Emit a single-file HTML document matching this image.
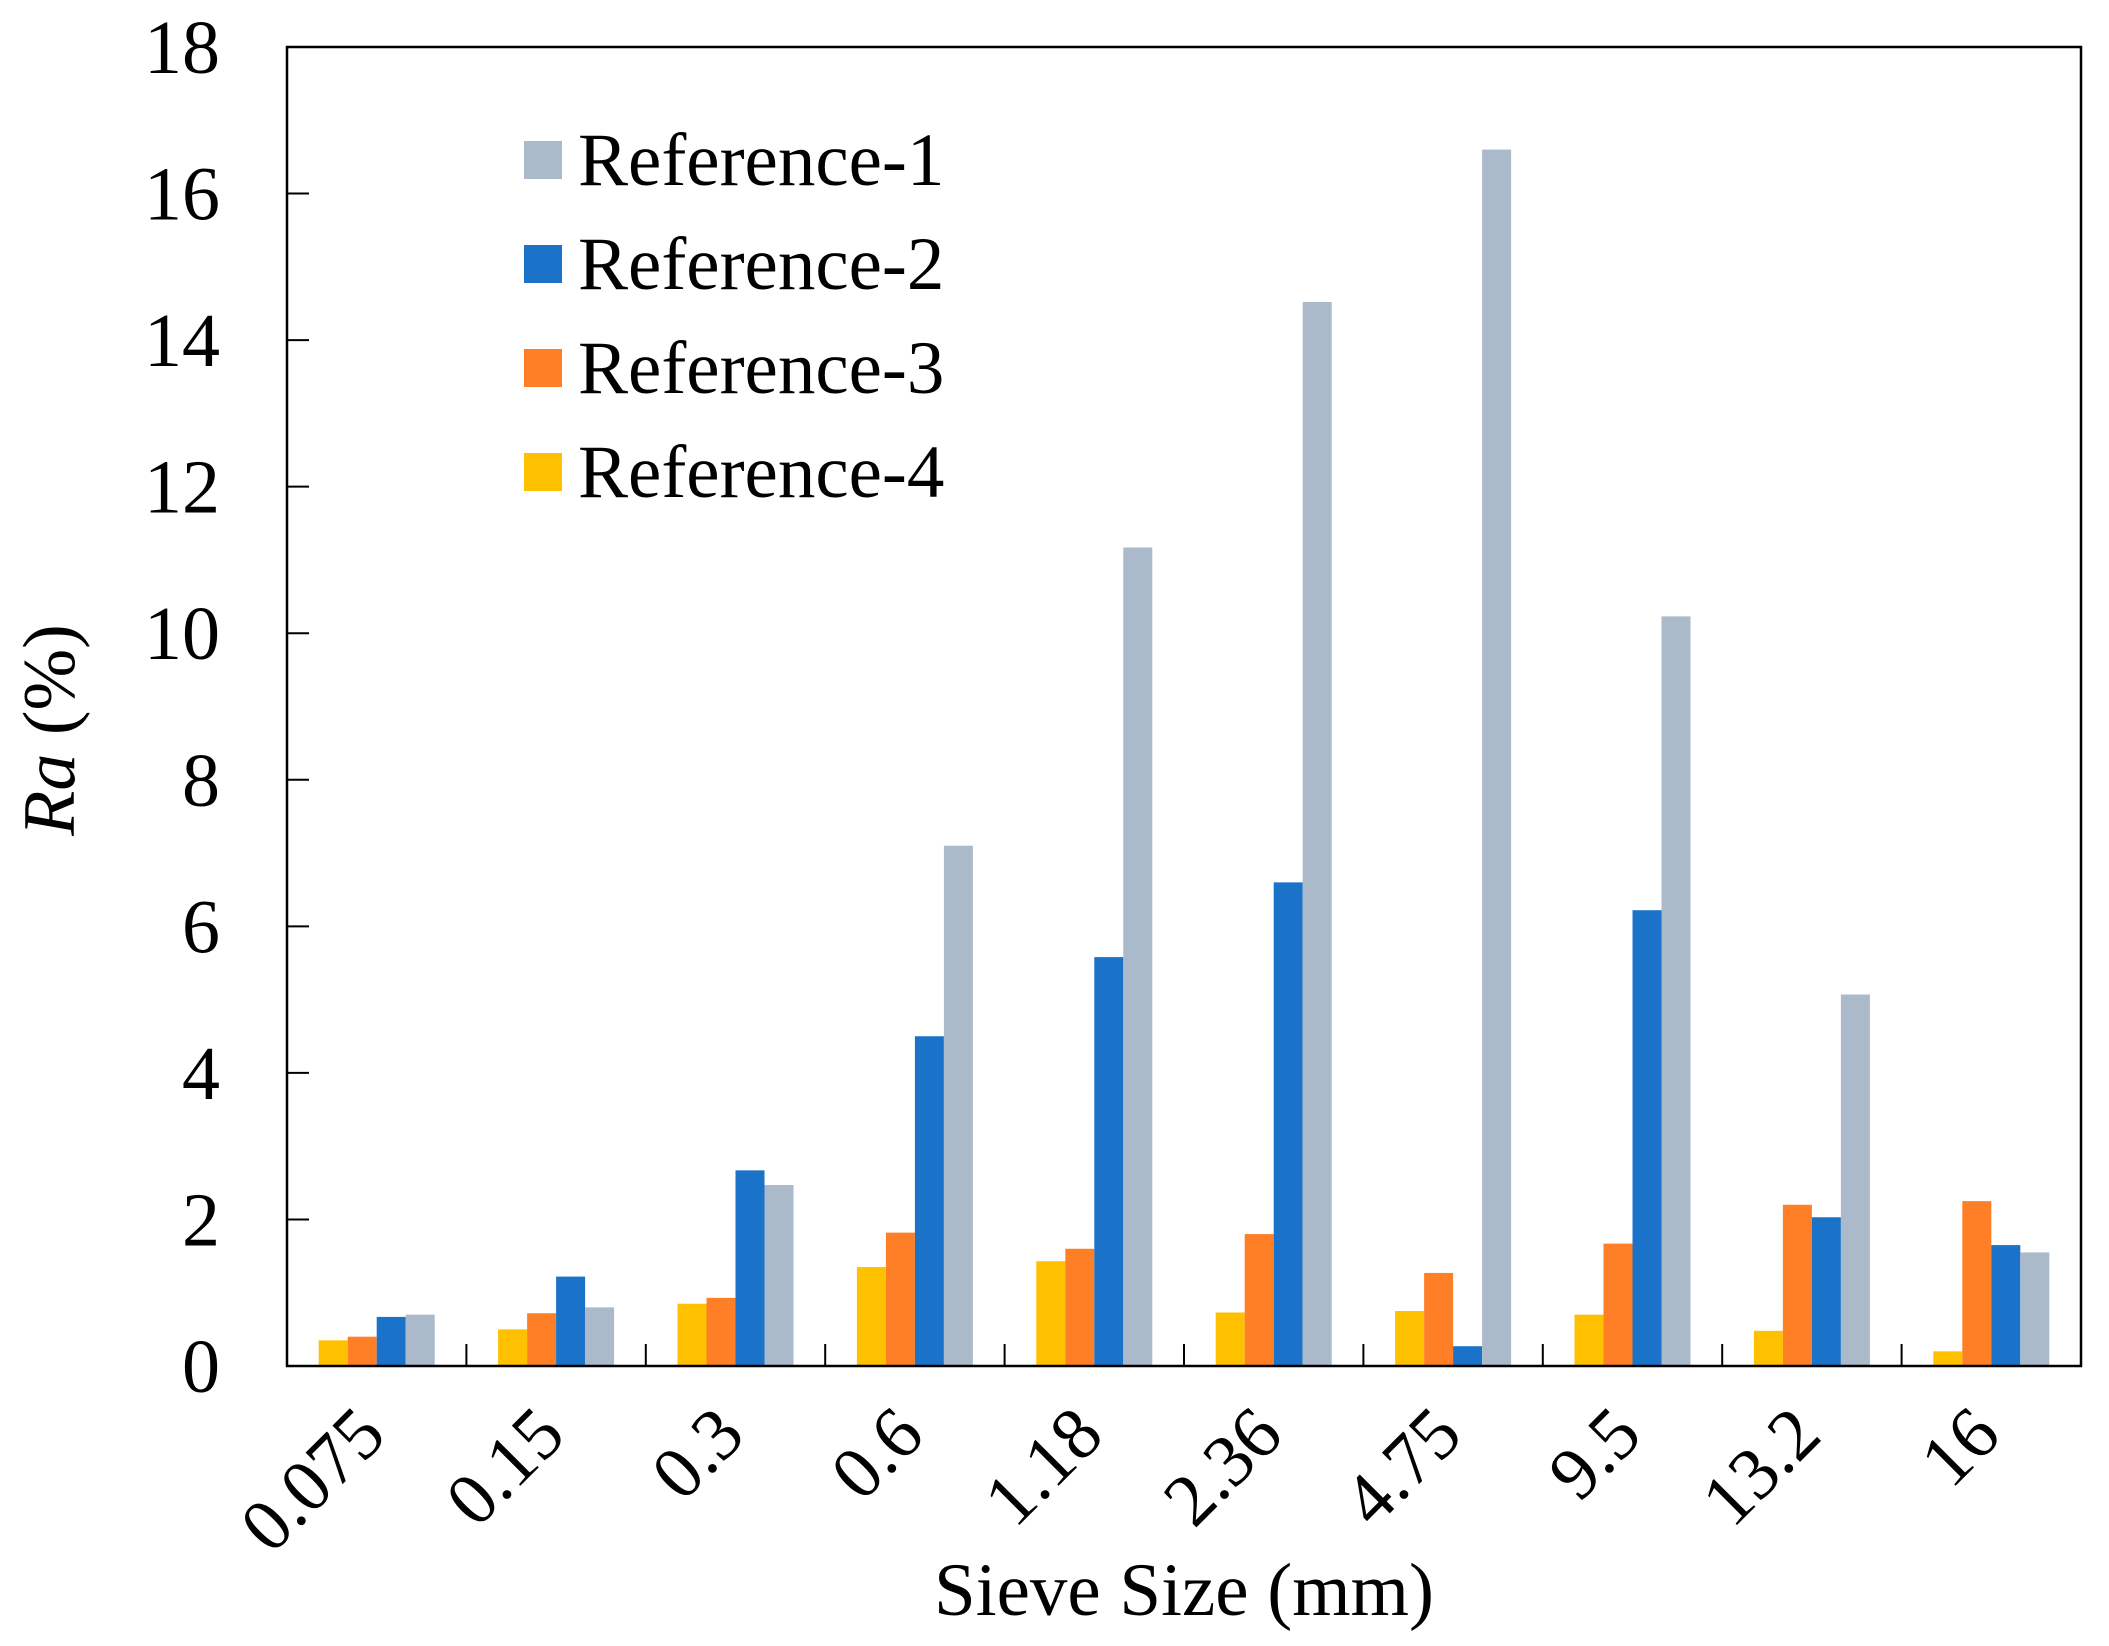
<!DOCTYPE html>
<html><head><meta charset="utf-8"><style>
html,body{margin:0;padding:0;background:#fff;}
svg{display:block;font-family:"Liberation Serif","Times New Roman",serif;}
</style></head><body>
<svg id="chart" width="2109" height="1646" viewBox="0 0 2109 1646" xmlns="http://www.w3.org/2000/svg">
<g id="plot"></g>
</svg>
<script>
const categories = ["0.075","0.15","0.3","0.6","1.18","2.36","4.75","9.5","13.2","16"];
const ref4 = [0.35,0.5,0.85,1.35,1.43,0.73,0.75,0.7,0.48,0.2];
const ref3 = [0.4,0.72,0.93,1.82,1.6,1.8,1.27,1.67,2.2,2.25];
const ref2 = [0.67,1.22,2.67,4.5,5.58,6.6,0.27,6.22,2.03,1.65];
const ref1 = [0.7,0.8,2.47,7.1,11.17,14.52,16.6,10.23,5.07,1.55];
const yTicks = [0,2,4,6,8,10,12,14,16,18];
const seriesNames = ["Reference-1","Reference-2","Reference-3","Reference-4"];

const NS="http://www.w3.org/2000/svg";
const g=document.getElementById('plot');
const L=287,R=2081,T=47,B=1366,yMax=18;
const y=v=>B-(v/yMax)*(B-T);
const cw=(R-L)/categories.length;
const xc=i=>L+cw*(i+0.5);
const bw=29;
function mk(tag,attrs){const e=document.createElementNS(NS,tag);for(const k in attrs)e.setAttribute(k,attrs[k]);g.appendChild(e);return e;}

const order=[[ref4,"#FFC000","reference-4"],[ref3,"#FF7F27","reference-3"],[ref2,"#1A73C8","reference-2"],[ref1,"#AABACB","reference-1"]];
order.forEach((s,si)=>{
  s[0].forEach((v,i)=>{
    const r=mk('rect',{x:xc(i)-2*bw+si*bw,y:y(v),width:bw,height:B-y(v),fill:s[1]});
    
    
  });
});

const frame=mk('rect',{x:L,y:T,width:R-L,height:B-T,fill:'none',stroke:'#000','stroke-width':2.5});



yTicks.forEach(t=>{
  if(t>0&&t<18){const tk=mk('line',{x1:L,x2:L+22,y1:y(t),y2:y(t),stroke:'#000','stroke-width':2});
  
  }
  const tx=mk('text',{x:220,y:y(t)+26,'text-anchor':'end','font-size':76});
  tx.textContent=t;
  
  
});
categories.forEach((c,i)=>{
  if(i>0){const tk=mk('line',{x1:L+cw*i,x2:L+cw*i,y1:B,y2:B-22,stroke:'#000','stroke-width':2});
  
  }
  const tx=mk('text',{x:0,y:0,'text-anchor':'end','font-size':74,transform:`translate(${xc(i)+12},${B+72}) rotate(-45)`});
  tx.textContent=c;
  
  
});
const lc=["#AABACB","#1A73C8","#FF7F27","#FFC000"];
seriesNames.forEach((n,i)=>{
  const cy=160+i*104;
  const sq=mk('rect',{x:524,y:cy-19,width:38,height:38,fill:lc[i]});
  
  
  const tx=mk('text',{x:578,y:cy+25,'font-size':75});
  tx.textContent=n;
  
  
});
const xt=mk('text',{x:1184,y:1615,'text-anchor':'middle','font-size':75});
xt.textContent="Sieve Size (mm)";


const yt=mk('text',{x:0,y:0,'text-anchor':'middle','font-size':74,transform:'translate(74,730) rotate(-90)'});
yt.innerHTML='<tspan font-style="italic">Ra</tspan> (%)';


</script>
</body></html>
